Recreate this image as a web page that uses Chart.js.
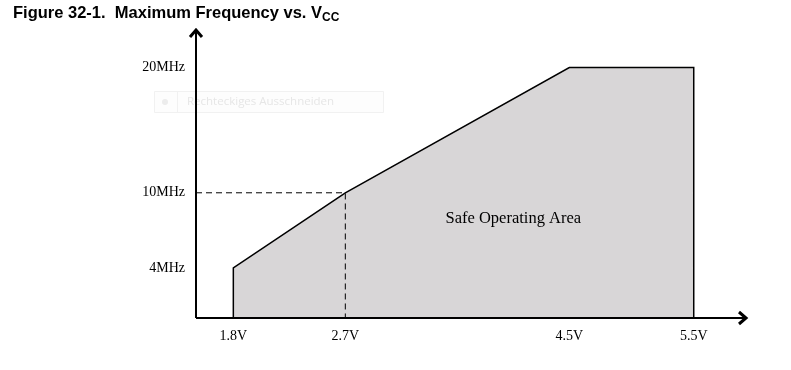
<!DOCTYPE html>
<html>
<head>
  <meta charset="UTF-8">
  <title>Maximum Frequency vs. VCC</title>
  <script src="https://cdn.jsdelivr.net/npm/chart.js"></script>
  <style>
    body { margin: 0; background: #fff; }
    #wrap { position: relative; width: 791px; height: 370px; }
    #title {
      position: absolute; left: 13px; top: 3px;
      font: bold 16.5px "Liberation Sans", Arial, sans-serif; color: #000; white-space: pre;
    }
    #title sub { font-size: 12px; vertical-align: -3px; line-height: 0; }
  </style>
</head>
<body>
<div id="wrap">
  <canvas id="chart" width="791" height="370"></canvas>
  <div id="title">Figure 32-1.  Maximum Frequency vs. V<sub>CC</sub></div>
</div>
<script>
  // safe operating area outline (V, MHz)
  const voltages = [1.8, 1.8, 2.7, 4.5, 5.5, 5.5];
  const freqs = [0, 4, 10, 20, 20, 0];
  // guide at 2.7V / 10MHz
  const guideV = 2.7;
  const guideF = 10;
  const xTicks = [1.8, 2.7, 4.5, 5.5];
  const yTicks = [4, 10, 20];
  const xMin = 1.5, xMax = 5.92;
  const yMin = 0, yMax = 23;

  const serif = '"Liberation Serif", "Times New Roman", serif';

  const axesPlugin = {
    id: 'axes',
    beforeDatasetsDraw(chart) {
      const ctx = chart.ctx;
      // faint watermark box left over in the source image
      ctx.save();
      ctx.strokeStyle = '#f1f1f1';
      ctx.fillStyle = '#fdfdfd';
      ctx.lineWidth = 1;
      ctx.beginPath();
      ctx.rect(154.5, 91.5, 229, 21);
      ctx.fill();
      ctx.stroke();
      ctx.fillStyle = '#ececec';
      ctx.beginPath();
      ctx.arc(165, 102, 3, 0, Math.PI * 2);
      ctx.fill();
      ctx.strokeStyle = '#f1f1f1';
      ctx.beginPath();
      ctx.moveTo(177.5, 92); ctx.lineTo(177.5, 112);
      ctx.stroke();
      ctx.fillStyle = '#e6e6e6';
      ctx.font = '11.5px "Open Sans", "Noto Sans", sans-serif';
      ctx.textBaseline = 'middle';
      ctx.fillText('Rechteckiges Ausschneiden', 187, 102);
      ctx.restore();
    },
    afterDatasetsDraw(chart) {
      const ctx = chart.ctx;
      const a = chart.chartArea;
      const x0 = chart.scales.x.getPixelForValue(xMin);
      const y0 = chart.scales.y.getPixelForValue(yMin);
      ctx.save();
      ctx.strokeStyle = '#000';
      ctx.lineWidth = 2;
      ctx.beginPath();
      ctx.moveTo(x0, y0); ctx.lineTo(a.right - 1, y0);
      ctx.moveTo(x0, y0); ctx.lineTo(x0, a.top + 1);
      ctx.stroke();
      // arrow heads
      ctx.lineWidth = 3;
      ctx.beginPath();
      ctx.moveTo(a.right - 7, y0 - 6); ctx.lineTo(a.right, y0); ctx.lineTo(a.right - 7, y0 + 6);
      ctx.moveTo(x0 - 6, a.top + 7); ctx.lineTo(x0, a.top); ctx.lineTo(x0 + 6, a.top + 7);
      ctx.stroke();
      // label inside the area
      ctx.fillStyle = '#000';
      ctx.font = '16.5px ' + serif;
      ctx.textAlign = 'center';
      ctx.textBaseline = 'middle';
      ctx.fillText('Safe Operating Area', chart.scales.x.getPixelForValue(4.05), chart.scales.y.getPixelForValue(7.95));
      ctx.restore();
    }
  };

  new Chart(document.getElementById('chart'), {
    type: 'scatter',
    data: {
      datasets: [
        {
          data: voltages.map((v, i) => ({ x: v, y: freqs[i] })),
          showLine: true,
          fill: 'origin',
          backgroundColor: '#d8d6d7',
          borderColor: '#000',
          borderWidth: 1.5,
          pointRadius: 0,
          tension: 0,
          order: 2
        },
        {
          data: [{ x: xMin, y: guideF }, { x: guideV, y: guideF }, { x: guideV, y: yMin }],
          showLine: true,
          fill: false,
          borderColor: '#000',
          borderWidth: 1,
          borderDash: [6, 4],
          pointRadius: 0,
          order: 1
        }
      ]
    },
    options: {
      responsive: false,
      animation: false,
      events: [],
      layout: { padding: { top: 30, right: 45, left: 0, bottom: 0 } },
      plugins: { legend: { display: false }, tooltip: { enabled: false } },
      scales: {
        x: {
          type: 'linear', min: xMin, max: xMax,
          grid: { display: false, drawTicks: false },
          border: { display: false },
          afterBuildTicks: s => { s.ticks = xTicks.map(v => ({ value: v })); },
          afterFit: s => { s.height = 52; },
          ticks: {
            padding: 10, color: '#000', maxRotation: 0, autoSkip: false,
            font: { family: serif, size: 14 },
            callback: v => v.toFixed(1) + 'V'
          }
        },
        y: {
          type: 'linear', min: yMin, max: yMax,
          grid: { display: false, drawTicks: false },
          border: { display: false },
          afterBuildTicks: s => { s.ticks = yTicks.map(v => ({ value: v })); },
          afterFit: s => { s.width = 196; },
          ticks: {
            padding: 11, color: '#000', autoSkip: false,
            font: { family: serif, size: 14 },
            callback: v => v + 'MHz'
          }
        }
      }
    },
    plugins: [axesPlugin]
  });
</script>
</body>
</html>
